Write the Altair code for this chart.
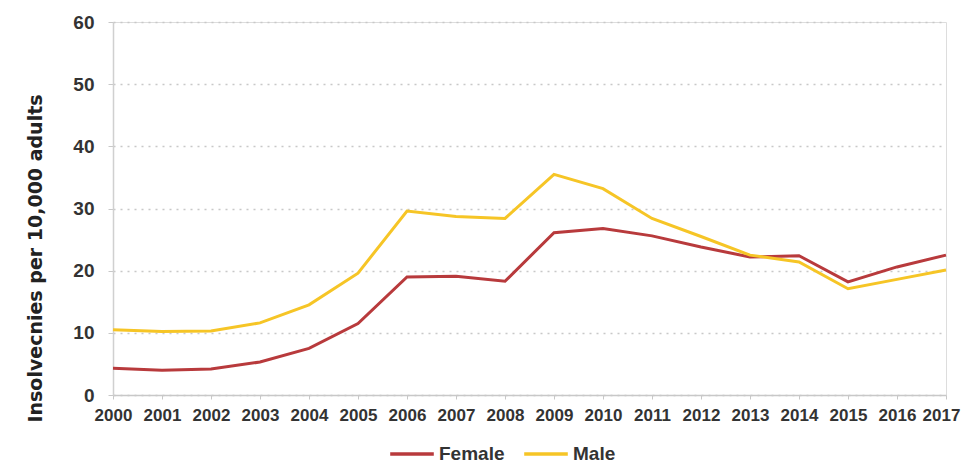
import altair as alt
import pandas as pd

years = list(range(2000, 2018))
female = [4.3, 4.0, 4.2, 5.3, 7.5, 11.5, 19.0, 19.1, 18.3, 26.1, 26.8, 25.6, 23.8, 22.2, 22.4, 18.2, 20.6, 22.5]
male = [10.5, 10.2, 10.3, 11.6, 14.5, 19.6, 29.6, 28.7, 28.4, 35.5, 33.2, 28.4, 25.5, 22.5, 21.4, 17.1, 18.6, 20.1]

rows = []
for y, f, m in zip(years, female, male):
    rows.append({"year": y, "series": "Female", "value": f})
    rows.append({"year": y, "series": "Male", "value": m})
df = pd.DataFrame(rows)

font = "Liberation Sans"

chart = alt.Chart(df).mark_line(strokeWidth=3).encode(
    x=alt.X("year:Q", scale=alt.Scale(domain=[2000, 2017], nice=False, zero=False),
            axis=alt.Axis(values=years, format="d", title=None, grid=False,
                          domainColor="#c8c8c8", domainWidth=1.5, tickColor="#c8c8c8",
                          tickSize=4, labelFont=font, labelFontSize=17, labelFontWeight="bold",
                          labelColor="#333333", labelPadding=8, labelFlush=False,
                          labelOverlap=False,
                          labelOffset=alt.expr("datum.value == 2017 ? -5 : 0"))),
    y=alt.Y("value:Q", scale=alt.Scale(domain=[0, 60]),
            axis=alt.Axis(values=[0, 10, 20, 30, 40, 50, 60], title="Insolvecnies per 10,000 adults",
                          grid=True, gridColor="#c8c8c8", gridDash=[2, 5], gridWidth=1.5,
                          domainColor="#d0d0d0", domainWidth=1.5, tickColor="#c8c8c8", tickSize=5,
                          labelFont=font, labelFontSize=19, labelFontWeight="bold",
                          labelColor="#333333", labelPadding=14,
                          titleFont="DejaVu Sans", titleFontSize=19, titleFontWeight="bold",
                          titleColor="#222222", titleAngle=-90, titleX=-78, titleY=236,
                          titleAlign="center", titleBaseline="middle")),
    color=alt.Color("series:N",
                    scale=alt.Scale(domain=["Female", "Male"], range=["#b83a3c", "#f6c526"]),
                    legend=alt.Legend(title=None, orient="none", direction="horizontal",
                                      legendX=275, legendY=408, symbolType="stroke",
                                      symbolSize=1900, symbolStrokeWidth=3.5,
                                      labelFont=font, labelFontSize=19, labelFontWeight="bold",
                                      labelColor="#333333", columnPadding=12, labelOffset=3)),
).properties(
    width=833, height=373,
    autosize=alt.AutoSizeParams(type="none"),
    padding={"left": 105, "top": 14, "right": 15, "bottom": 68},
).configure_view(stroke=None).configure(background="white")

chart.save("out.html", embed_options={"renderer": "svg", "actions": False})
